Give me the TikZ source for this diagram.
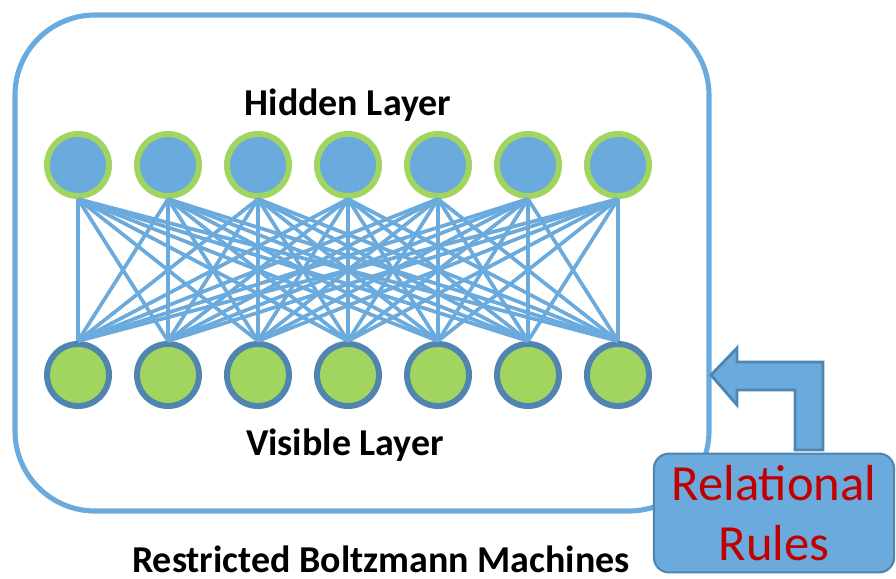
\documentclass[tikz,border=0pt]{standalone}
\usepackage{fontspec}
\setmainfont{Carlito}
\definecolor{rbmblue}{RGB}{106,170,220}
\definecolor{rbmgreen}{RGB}{162,212,96}
\definecolor{rbmdark}{RGB}{80,133,175}
\definecolor{rulered}{RGB}{192,0,0}
\begin{document}
\begin{tikzpicture}[x=0.01cm,y=-0.01cm,unit/.style={shape=circle,inner sep=0pt,minimum size=0.62cm,line width=1.7pt},hid/.style={unit,fill=rbmblue,draw=rbmgreen},vis/.style={unit,fill=rbmgreen,draw=rbmdark},wire/.style={draw=rbmblue,line width=1.05pt},lbl/.style={anchor=base,inner sep=0pt,font=\fontsize{10.8}{13}\selectfont\bfseries}]
\def\xa{78};
\def\dx{90};
\def\yh{165};
\def\yv{375};

\useasboundingbox (0,0) rectangle (896,578);
\draw[rbmblue,line width=1.45pt,rounded corners=0.8cm] (15,15) rectangle (709,511);

\node[lbl] (hidden) at (348,115) {Hidden Layer};
\node[lbl] (visible) at (345,455) {Visible Layer};
\node[lbl] (rbm) at (381,572) {Restricted Boltzmann Machines};

\foreach \i in {1,...,7} \node[hid] (h\i) at (\xa+\i*\dx-\dx,\yh) {};
\foreach \i in {1,...,7} \node[vis] (v\i) at (\xa+\i*\dx-\dx,\yv) {};

\foreach \i in {1,...,7} \foreach \j in {1,...,7} \draw[wire] (h\i.south) -- (v\j.north);

\draw[fill=rbmblue,draw=rbmdark,line width=0.8pt] (711,375) -- (737,348) -- (737,362) -- (823,362) -- (823,450) -- (795,450) -- (795,390) -- (737,390) -- (737,405) -- cycle;

\node[draw=rbmdark,fill=rbmblue,line width=0.6pt,rounded corners=0.15cm,minimum width=2.4cm,minimum height=1.16cm,align=center,text=rulered,font=\fontsize{14.4}{17}\selectfont] (rules) at (774,513) {Relational\\Rules};
\end{tikzpicture}
\end{document}
